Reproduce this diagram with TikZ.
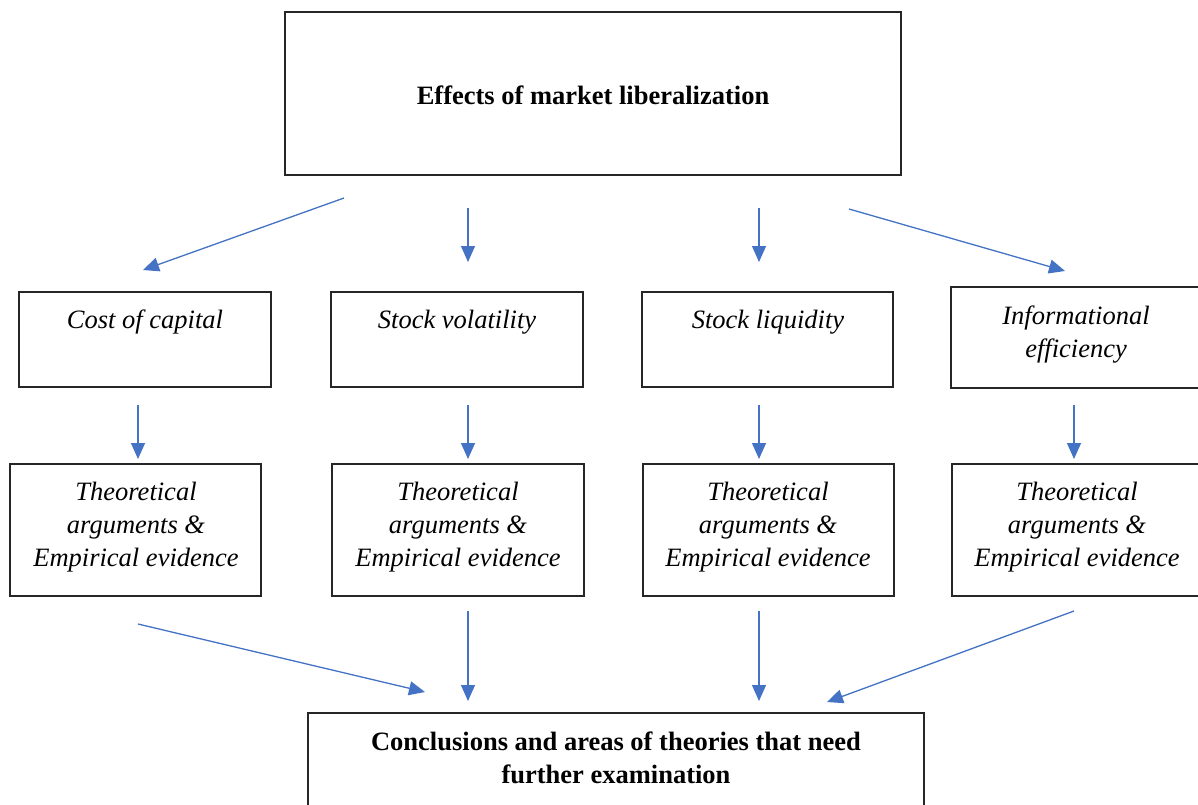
\documentclass[tikz,border=0pt]{standalone}
\usepackage{fontspec}
\setmainfont{Liberation Serif}
\usetikzlibrary{arrows.meta}
\definecolor{arrblue}{RGB}{68,114,196}
\begin{document}
\begin{tikzpicture}[x=1pt,y=-1pt,
 box/.style={draw=black!85, line width=1.2pt, inner sep=0pt},
 lab/.style={font=\fontsize{26.5}{33}\selectfont\itshape, align=center, inner sep=0pt},
 blab/.style={font=\fontsize{26.5}{32.5}\selectfont\bfseries, align=center, inner sep=0pt},
 arr/.style={draw=arrblue, line width=1.3pt, -{Triangle[length=16pt,width=14pt]}}]
\path[use as bounding box] (0,0) rectangle (1198,804);
\clip (0,0) rectangle (1198,804);
% boxes
\node[box, minimum width=616, minimum height=163] (top) at (593,93.5) {};
\node[box, minimum width=252, minimum height=95] (c1) at (145,339.5) {};
\node[box, minimum width=252, minimum height=95] (c2) at (457,339.5) {};
\node[box, minimum width=251, minimum height=95] (c3) at (767.5,339.5) {};
\node[box, minimum width=248, minimum height=101] (c4) at (1075,337.5) {};
\node[box, minimum width=251, minimum height=132] (e1) at (135.5,530) {};
\node[box, minimum width=252, minimum height=132] (e2) at (458,530) {};
\node[box, minimum width=251, minimum height=132] (e3) at (768.5,530) {};
\node[box, minimum width=247, minimum height=132] (e4) at (1075.5,530) {};
\node[box, minimum width=616, minimum height=117] (bot) at (616,771.5) {};
% texts
\node[blab] (toptxt) at (593,95) {Effects of market liberalization};
\node[lab] (c1t) at (145,322) {Cost of capital};
\node[lab] (c2t) at (457,322) {Stock volatility};
\node[lab] (c3t) at (768,322) {Stock liquidity};
\node[lab] (c4t) at (1076,335) {Informational\\efficiency};
\node[lab] (e1t) at (136,527) {Theoretical\\arguments \&\\Empirical evidence};
\node[lab] (e2t) at (458,527) {Theoretical\\arguments \&\\Empirical evidence};
\node[lab] (e3t) at (768,527) {Theoretical\\arguments \&\\Empirical evidence};
\node[lab] (e4t) at (1077,527) {Theoretical\\arguments \&\\Empirical evidence};
\node[blab] (bott) at (616,758) {Conclusions and areas of theories that need\\further examination};
% arrow endpoints
\coordinate (a1s) at (344,198); \coordinate (a1e) at (143,270);
\coordinate (a2s) at (468,208); \coordinate (a2e) at (468,262);
\coordinate (a3s) at (759,208); \coordinate (a3e) at (759,262);
\coordinate (a4s) at (849,209); \coordinate (a4e) at (1065,271);
\coordinate (b1s) at (138,405); \coordinate (b1e) at (138,459);
\coordinate (b2s) at (468,405); \coordinate (b2e) at (468,459);
\coordinate (b3s) at (759,405); \coordinate (b3e) at (759,459);
\coordinate (b4s) at (1074,405); \coordinate (b4e) at (1074,459);
\coordinate (d1s) at (138,624); \coordinate (d1e) at (425,692);
\coordinate (d2s) at (468,611); \coordinate (d2e) at (468,701);
\coordinate (d3s) at (759,611); \coordinate (d3e) at (759,701);
\coordinate (d4s) at (1074,611); \coordinate (d4e) at (827,702);
% arrows
\foreach \s/\e in {a1s/a1e,a2s/a2e,a3s/a3e,a4s/a4e,b1s/b1e,b2s/b2e,b3s/b3e,b4s/b4e,d1s/d1e,d2s/d2e,d3s/d3e,d4s/d4e}
  \draw[arr] (\s) -- (\e);
\end{tikzpicture}
\end{document}
